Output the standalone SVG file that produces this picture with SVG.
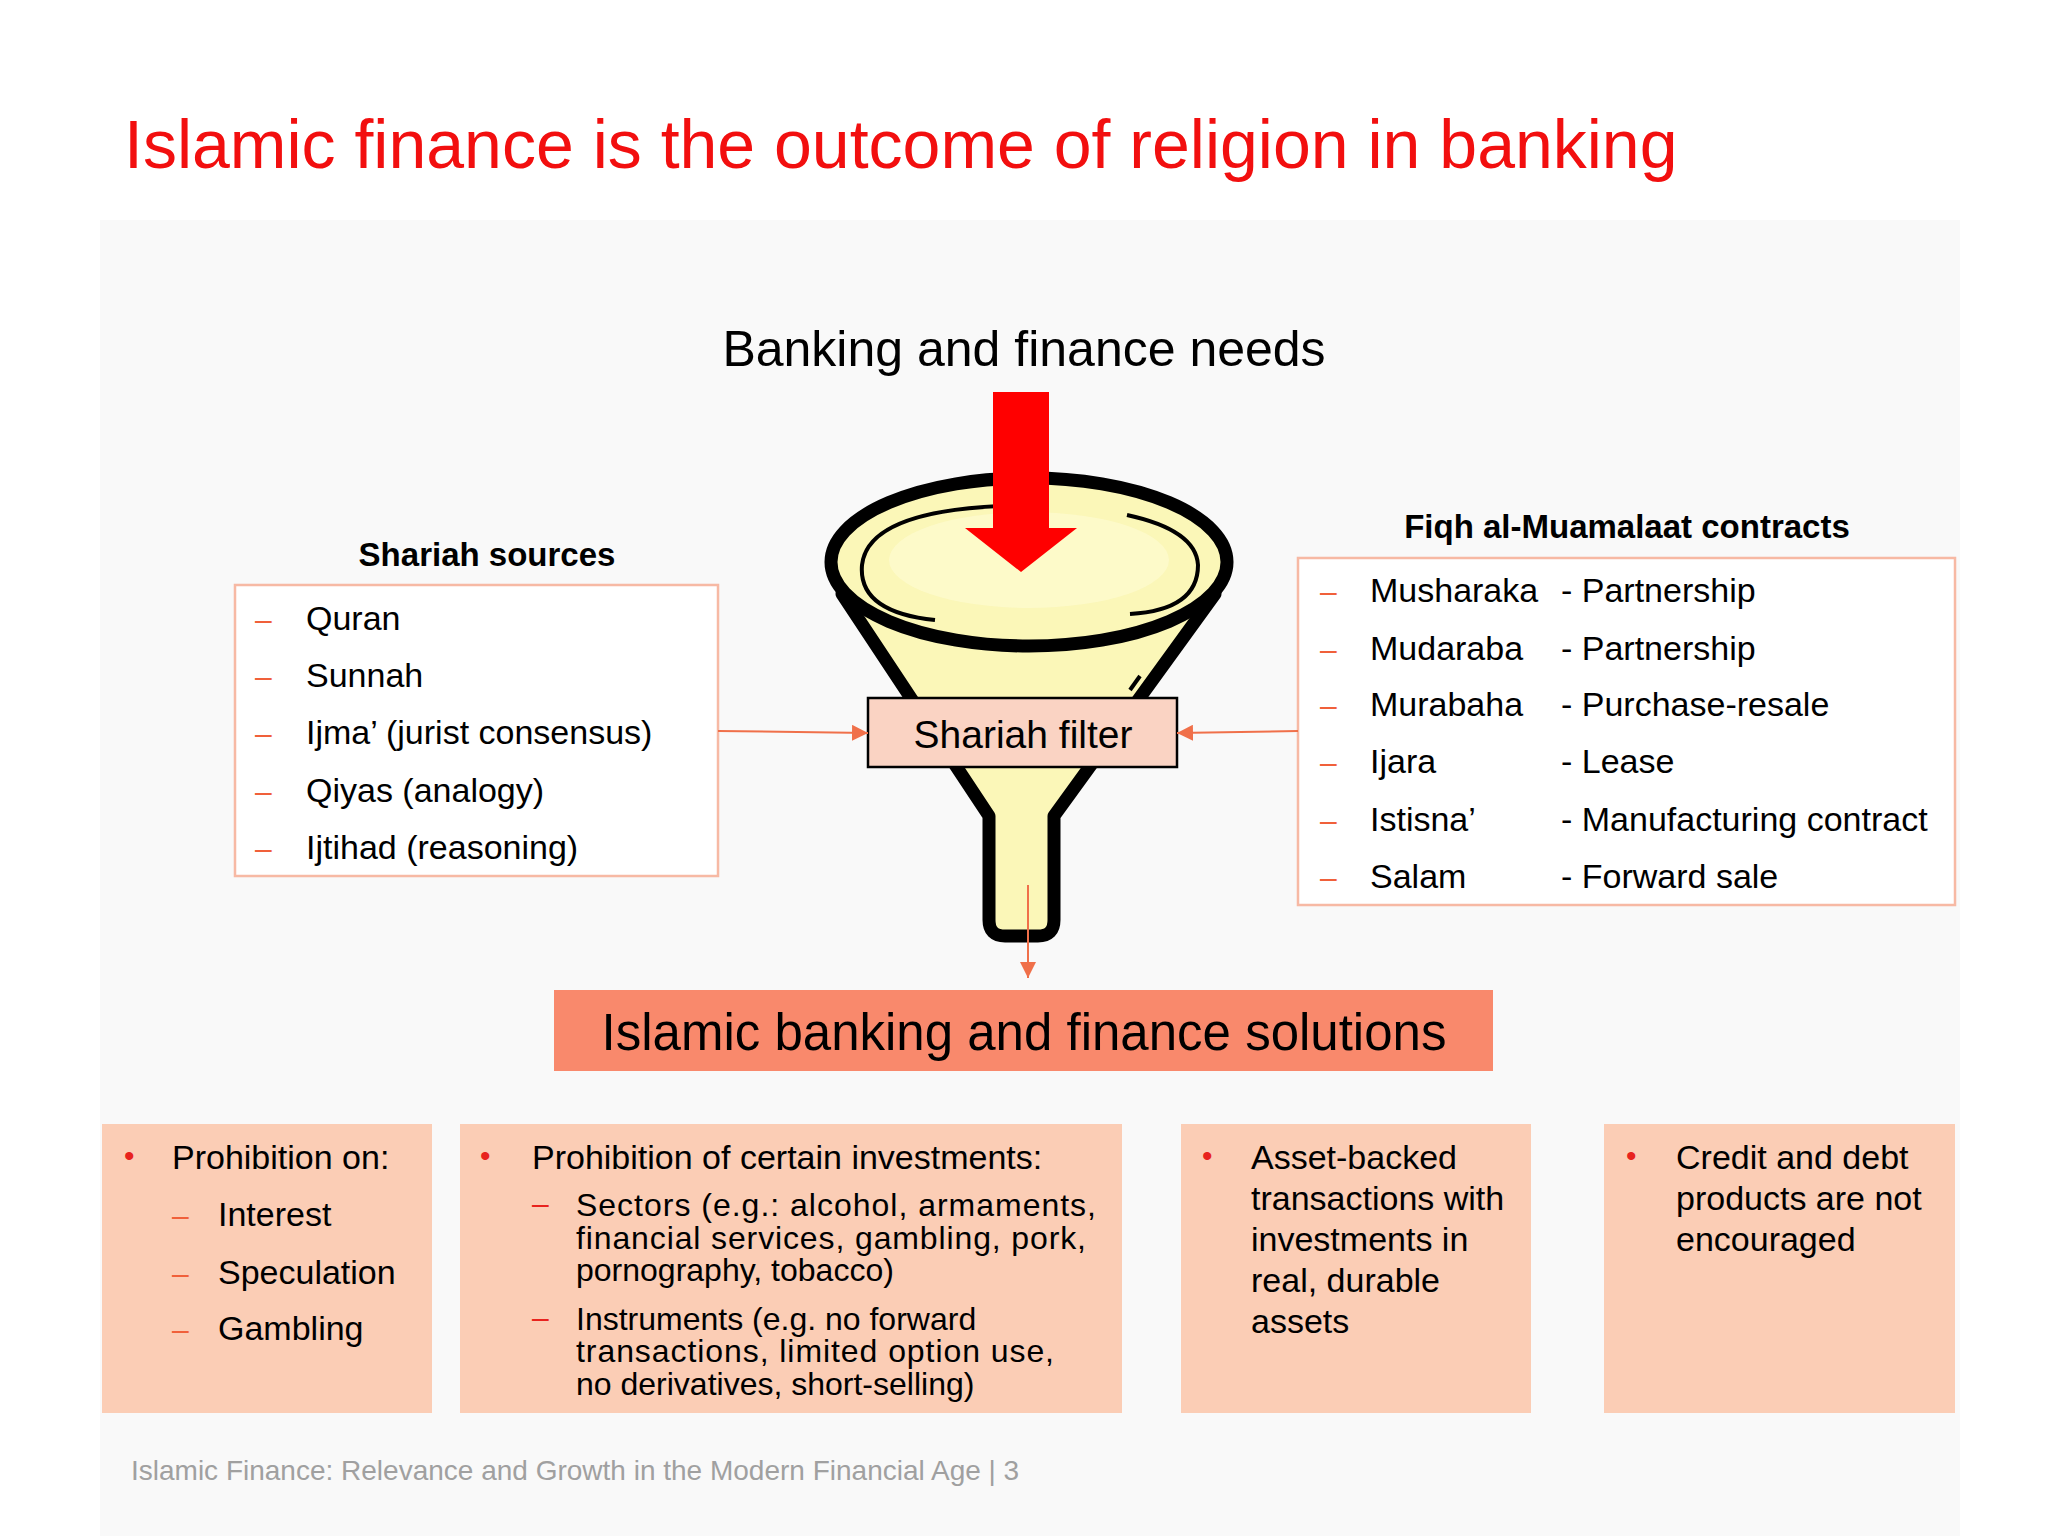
<svg xmlns="http://www.w3.org/2000/svg" width="2048" height="1536" viewBox="0 0 2048 1536">
<defs>
<style>
text{font-family:"Liberation Sans",Arial,sans-serif;fill:#000}
.item{font-size:34px}
.dash{fill:#F0603A;font-size:30px}
.bul{fill:#E8231E;font-size:30px}
.box{fill:#FBCDB5}
.lbox{fill:#fff;stroke:#F7B9A4;stroke-width:2.5}
.conn{stroke:#F0704A;stroke-width:2;fill:none}
.b{font-size:34px}
.s{font-size:32px}
</style>
<marker id="a2" markerWidth="16" markerHeight="16" refX="16" refY="8" orient="auto" markerUnits="userSpaceOnUse">
<path d="M0,0 L16,8 L0,16 z" fill="#F0704A"/>
</marker>
</defs>
<rect width="2048" height="1536" fill="#fff"/>
<rect x="100" y="220" width="1860" height="1316" fill="#f9f9f9"/>
<text x="124" y="168" style="font-size:68px;fill:#F20F0F">Islamic finance is the outcome of religion in banking</text>
<text x="1024" y="366" text-anchor="middle" style="font-size:50px">Banking and finance needs</text>

<g id="funnel">
<path d="M842,594 L989,816 L989,920 Q989,936 1005,936 L1038,936 Q1054,936 1054,920 L1054,816 L1215,594 Z" fill="#FBF7B8" stroke="#000" stroke-width="13" stroke-linejoin="round"/>
<ellipse cx="1029" cy="562" rx="198" ry="84" fill="#FBF7B8" stroke="#000" stroke-width="13"/>
<path d="M935,620 Q858,612 862,565 Q868,512 1000,506" fill="none" stroke="#000" stroke-width="4"/>
<path d="M1130,614 Q1198,610 1198,565 Q1196,530 1127,515" fill="none" stroke="#000" stroke-width="4"/>
<path d="M1130,690 L1140,676" stroke="#000" stroke-width="4"/>
<ellipse cx="1029" cy="560" rx="140" ry="48" fill="#FDFBD0" opacity="0.7"/>
</g>
<g id="arrow-needs">
<path d="M993,392 L1049,392 L1049,528 L1077,528 L1021,572 L965,528 L993,528 Z" fill="#FF0000"/>
</g>

<g id="shariah-sources">
<text x="487" y="566" text-anchor="middle" style="font-size:33px;font-weight:bold">Shariah sources</text>
<rect class="lbox" x="235" y="585" width="483" height="291"/>
<text class="dash" x="255" y="630">–</text><text class="item" x="306" y="630">Quran</text>
<text class="dash" x="255" y="687">–</text><text class="item" x="306" y="687">Sunnah</text>
<text class="dash" x="255" y="744">–</text><text class="item" x="306" y="744">Ijma’ (jurist consensus)</text>
<text class="dash" x="255" y="802">–</text><text class="item" x="306" y="802">Qiyas (analogy)</text>
<text class="dash" x="255" y="859">–</text><text class="item" x="306" y="859">Ijtihad (reasoning)</text>
</g>

<g id="fiqh-contracts">
<text x="1627" y="538" text-anchor="middle" style="font-size:33px;font-weight:bold">Fiqh al-Muamalaat contracts</text>
<rect class="lbox" x="1298" y="558" width="657" height="347"/>
<text class="dash" x="1320" y="602">–</text><text class="item" x="1370" y="602">Musharaka</text><text class="item" x="1561" y="602">- Partnership</text>
<text class="dash" x="1320" y="660">–</text><text class="item" x="1370" y="660">Mudaraba</text><text class="item" x="1561" y="660">- Partnership</text>
<text class="dash" x="1320" y="716">–</text><text class="item" x="1370" y="716">Murabaha</text><text class="item" x="1561" y="716">- Purchase-resale</text>
<text class="dash" x="1320" y="773">–</text><text class="item" x="1370" y="773">Ijara</text><text class="item" x="1561" y="773">- Lease</text>
<text class="dash" x="1320" y="831">–</text><text class="item" x="1370" y="831">Istisna’</text><text class="item" x="1561" y="831">- Manufacturing contract</text>
<text class="dash" x="1320" y="888">–</text><text class="item" x="1370" y="888">Salam</text><text class="item" x="1561" y="888">- Forward sale</text>
</g>

<g id="shariah-filter">
<rect x="868" y="698" width="309" height="69" fill="#FAD3C3" stroke="#000" stroke-width="2.5"/>
<text x="1023" y="748" text-anchor="middle" style="font-size:39px">Shariah filter</text>
</g>

<g id="connectors">
<line class="conn" x1="718" y1="731" x2="868" y2="733" marker-end="url(#a2)"/>
<line class="conn" x1="1298" y1="731" x2="1177" y2="733" marker-end="url(#a2)"/>
<line class="conn" x1="1028" y1="885" x2="1028" y2="978" marker-end="url(#a2)"/>
</g>

<g id="solutions">
<rect x="554" y="990" width="939" height="81" fill="#F9896C"/>
<text x="1024" y="1050" text-anchor="middle" style="font-size:51px">Islamic banking and finance solutions</text>
</g>

<g id="box1">
<rect class="box" x="102" y="1124" width="330" height="289"/>
<text class="bul" x="124" y="1166">•</text><text class="b" x="172" y="1169">Prohibition on:</text>
<text class="dash" x="172" y="1226">–</text><text class="b" x="218" y="1226">Interest</text>
<text class="dash" x="172" y="1284">–</text><text class="b" x="218" y="1284">Speculation</text>
<text class="dash" x="172" y="1340">–</text><text class="b" x="218" y="1340">Gambling</text>
</g>
<g id="box2">
<rect class="box" x="460" y="1124" width="662" height="289"/>
<text class="bul" x="480" y="1166">•</text><text class="b" x="532" y="1169">Prohibition of certain investments:</text>
<text class="bul" x="532" y="1214">–</text><text class="s" x="576" y="1216" textLength="520">Sectors (e.g.: alcohol, armaments,</text>
<text class="s" x="576" y="1249" textLength="510">financial services, gambling, pork,</text>
<text class="s" x="576" y="1281">pornography, tobacco)</text>
<text class="bul" x="532" y="1328">–</text><text class="s" x="576" y="1330">Instruments (e.g. no forward</text>
<text class="s" x="576" y="1362" textLength="478">transactions, limited option use,</text>
<text class="s" x="576" y="1395">no derivatives, short-selling)</text>
</g>
<g id="box3">
<rect class="box" x="1181" y="1124" width="350" height="289"/>
<text class="bul" x="1202" y="1166">•</text>
<text class="b" x="1251" y="1169">Asset-backed</text>
<text class="b" x="1251" y="1210">transactions with</text>
<text class="b" x="1251" y="1251">investments in</text>
<text class="b" x="1251" y="1292">real, durable</text>
<text class="b" x="1251" y="1333">assets</text>
</g>
<g id="box4">
<rect class="box" x="1604" y="1124" width="351" height="289"/>
<text class="bul" x="1626" y="1166">•</text>
<text class="b" x="1676" y="1169">Credit and debt</text>
<text class="b" x="1676" y="1210">products are not</text>
<text class="b" x="1676" y="1251">encouraged</text>
</g>
<text x="131" y="1480" style="font-size:28px;fill:#A0A0A0">Islamic Finance: Relevance and Growth in the Modern Financial Age | 3</text>
</svg>
